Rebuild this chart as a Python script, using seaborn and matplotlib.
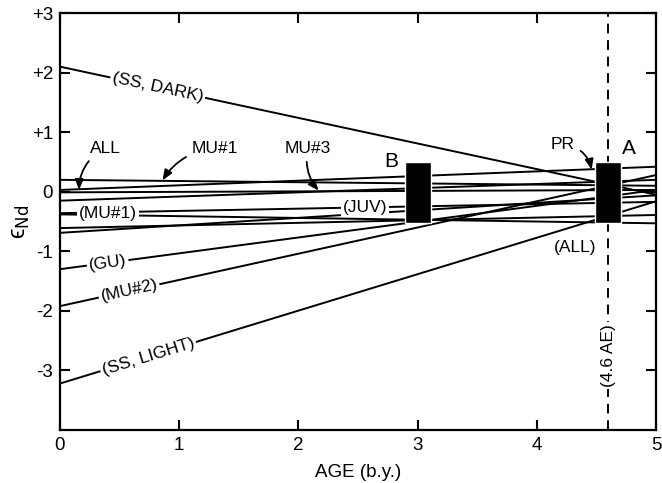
import numpy as np
import pandas as pd
import matplotlib
matplotlib.use("Agg")
import matplotlib.pyplot as plt
import seaborn as sns

# Nd evolution lines: epsilon_Nd at age 0 and at 5 b.y.
line_ids = ["SS, DARK", "MU#1", "ALL", "CHUR", "MU#3", "JUV",
            "(MU#1)", "L8", "L9", "GU", "MU#2", "SS, LIGHT"]
eps_at_0 = [2.10, 0.20, 0.03, -0.01, -0.15, -0.36, -0.38, -0.61, -0.69, -1.30, -1.92, -3.22]
eps_at_5 = [-0.05, 0.10, 0.42, 0.03, 0.20, -0.17, -0.53, -0.39, -0.06, 0.03, 0.28, -0.16]
ages = [0.0, 5.0]

# Model-age boxes
box_ages = [3.0, 4.6]
box_low = [-0.52, -0.52]
box_high = [0.50, 0.50]
box_names = ["B", "A"]

ae_age = 4.6

x_ticks = [0, 1, 2, 3, 4, 5]
y_ticks = [-3, -2, -1, 0, 1, 2, 3]
y_tick_labels = ["-3", "-2", "-1", "0", "+1", "+2", "+3"]

rows = []
for name, a, b in zip(line_ids, eps_at_0, eps_at_5):
    rows.append({"line": name, "age": ages[0], "eps": a})
    rows.append({"line": name, "age": ages[1], "eps": b})
df = pd.DataFrame(rows)

sns.set_style("ticks")
plt.rcParams["font.family"] = ["Liberation Sans", "DejaVu Sans"]
plt.rcParams.update({
    "text.color": "black", "axes.labelcolor": "black",
    "xtick.color": "black", "ytick.color": "black",
    "axes.edgecolor": "black",
})

fig = plt.figure(figsize=(6.62, 4.83), dpi=100)
ax = fig.add_axes([0.0906, 0.1097, 0.9004, 0.8633])

sns.lineplot(data=df, x="age", y="eps", units="line", estimator=None,
             color="black", linewidth=1.4, ax=ax, legend=False)

# boxes
ax.bar(box_ages, np.array(box_high) - np.array(box_low), bottom=box_low,
       width=0.22, color="black", zorder=4)

# vertical dashed line at 4.6 AE
ax.axvline(ae_age, color="black", linestyle=(0, (5, 3.5)), linewidth=1.4, zorder=3)

ax.set_xlim(0, 5)
ax.set_ylim(-4, 3)
ax.set_xticks(x_ticks)
ax.set_xticklabels([str(t) for t in x_ticks])
ax.set_yticks(y_ticks)
ax.set_yticklabels(y_tick_labels)
for s in ax.spines.values():
    s.set_linewidth(1.6)

ax.set_xlabel("AGE (b.y.)", fontsize=13.5, labelpad=7)
ax.set_ylabel(r"ϵ$_{\mathrm{Nd}}$", fontsize=17, labelpad=0)

white = dict(boxstyle="square,pad=0.12", fc="white", ec="none")
txt = dict(fontsize=12.5, ha="center", va="center", zorder=6)

def slope_angle(a, b):
    # on-screen angle of a line from its data slope
    p0 = ax.transData.transform((0, a))
    p1 = ax.transData.transform((5, b))
    return np.degrees(np.arctan2(p1[1] - p0[1], p1[0] - p0[0]))

def on_line(label, idx, x, dy=0.0):
    a, b = eps_at_0[idx], eps_at_5[idx]
    y = a + (b - a) * x / 5 + dy
    ax.text(x, y, label, rotation=slope_angle(a, b), bbox=white,
            rotation_mode="anchor", **txt)

on_line("(SS, DARK)", 0, 0.82)
on_line("(GU)", 9, 0.40)
on_line("(MU#2)", 10, 0.58)
on_line("(SS, LIGHT)", 11, 0.74)
ax.text(0.40, -0.36, "(MU#1)", bbox=white, **txt)
ax.text(2.56, -0.27, "(JUV)", bbox=white, **txt)
ax.text(4.32, -0.93, "(ALL)", **txt)
ax.text(ae_age, -2.75, "(4.6 AE)", rotation=90, bbox=white, **txt)

ax.text(2.78, 0.50, "B", fontsize=15, ha="center", va="center")
ax.text(4.77, 0.72, "A", fontsize=15, ha="center", va="center")

arrow = dict(arrowstyle="-|>,head_length=0.5,head_width=0.2", color="black",
             lw=1.3, shrinkA=2, shrinkB=0)
ax.annotate("ALL", xy=(0.16, 0.03), xytext=(0.38, 0.73),
            arrowprops=dict(connectionstyle="arc3,rad=0.3", **arrow), **txt)
ax.annotate("MU#1", xy=(0.86, 0.19), xytext=(1.30, 0.73),
            arrowprops=dict(connectionstyle="arc3,rad=0.25", **arrow), **txt)
ax.annotate("MU#3", xy=(2.17, 0.02), xytext=(2.08, 0.73),
            arrowprops=dict(connectionstyle="arc3,rad=0.25", **arrow), **txt)
ax.annotate("PR", xy=(4.46, 0.37), xytext=(4.22, 0.80),
            arrowprops=dict(connectionstyle="arc3,rad=-0.35", **arrow), **txt)

# inward ticks on all four sides
ax.set_axisbelow(False)
ax.tick_params(direction="in", top=True, right=True, length=7, width=1.5,
               color="black", labelsize=13.5, pad=5)
ax.tick_params(labeltop=False, labelright=False)

fig.savefig("out.png", dpi=100)

# check that the top tick at age 1 was rendered
img = plt.imread("out.png")
top_tick = float(img[15:20, 176:182, :3].mean(axis=2).min())
if top_tick > 0.5:
    raise SystemExit("top tick missing: %.2f" % top_tick)
